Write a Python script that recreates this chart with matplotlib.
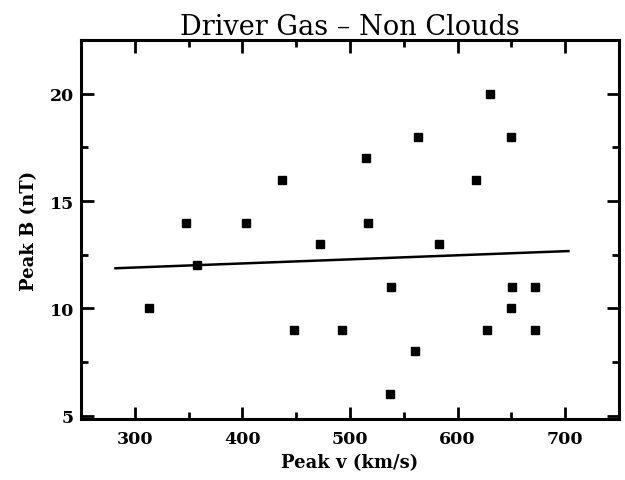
import matplotlib
matplotlib.use("Agg")
import matplotlib.pyplot as plt
from matplotlib.ticker import MultipleLocator

# peak solar wind speed (km/s) and peak field (nT)
peak_v = [313, 348, 358, 403, 437, 448, 472, 493, 515, 517, 538, 537,
          560, 563, 583, 617, 627, 630, 650, 650, 651, 672, 672]
peak_b = [10, 14, 12, 14, 16, 9, 13, 9, 17, 14, 11, 6,
          8, 18, 13, 16, 9, 20, 18, 10, 11, 11, 9]

# fitted line end points
fit_v = [282, 703]
fit_b = [11.87, 12.67]

fig = plt.figure(figsize=(6.25, 4.81), dpi=100)
ax = fig.add_axes([0.1296, 0.1268, 0.8608, 0.788])

ax.plot(peak_v, peak_b, linestyle="", marker="s", markersize=6, color="black")
ax.plot(fit_v, fit_b, color="black", linewidth=1.8)

ax.set_xlim(250, 750)
ax.set_ylim(4.85, 22.5)
ax.xaxis.set_major_locator(MultipleLocator(100))
ax.xaxis.set_minor_locator(MultipleLocator(50))
ax.yaxis.set_major_locator(MultipleLocator(5))
ax.yaxis.set_minor_locator(MultipleLocator(2.5))
ax.tick_params(which="both", direction="in", top=True, right=True, width=2)
ax.tick_params(which="major", length=9)
ax.tick_params(which="minor", length=5)
for lab in ax.get_xticklabels() + ax.get_yticklabels():
    lab.set_fontfamily("DejaVu Serif")
    lab.set_fontweight("bold")
    lab.set_fontsize(12.5)
ax.tick_params(axis="x", pad=8)
ax.tick_params(axis="y", pad=5)
for sp in ax.spines.values():
    sp.set_linewidth(2.2)

ax.set_xlabel("Peak v (km/s)", family="DejaVu Serif", weight="bold", fontsize=13, labelpad=4)
ax.set_ylabel("Peak B (nT)", family="DejaVu Serif", weight="bold", fontsize=13, labelpad=8)
ax.set_title("Driver Gas \u2013 Non Clouds", family="DejaVu Serif", fontsize=19.5, pad=3)

fig.savefig("out.png", dpi=100)
